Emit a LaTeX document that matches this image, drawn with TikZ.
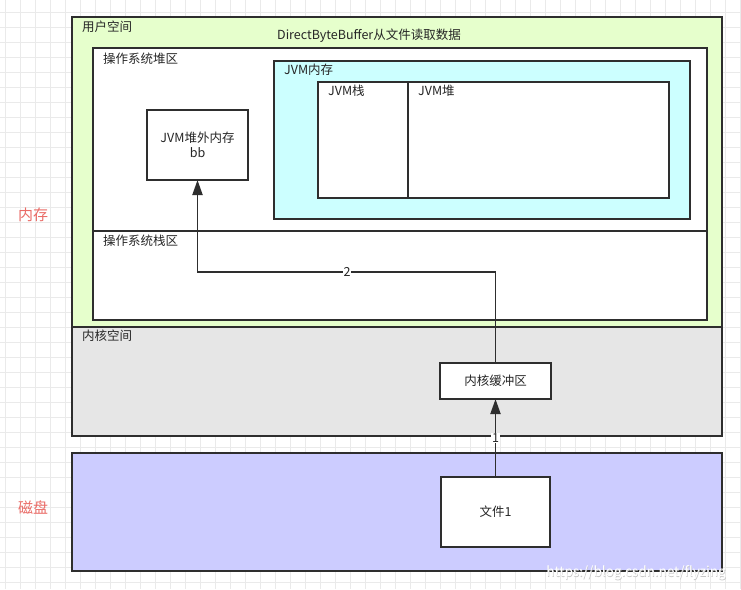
\documentclass[tikz,border=0pt]{standalone}
\usepackage{fontspec}
\setmainfont{Noto Sans CJK SC}
\usetikzlibrary{arrows.meta}
\definecolor{usergreen}{HTML}{E6FFCC}
\definecolor{kernelgray}{HTML}{E6E6E6}
\definecolor{jvmcyan}{HTML}{CCFFFF}
\definecolor{disklav}{HTML}{CCCCFF}
\definecolor{linecol}{HTML}{2E2E2E}
\definecolor{redtxt}{HTML}{EA6B66}
\definecolor{gridcol}{HTML}{EAEAEA}
\begin{document}
\begin{tikzpicture}[x=1pt,y=-1pt,
  box/.style={draw=linecol,line width=1.9pt,anchor=north west,inner sep=0pt,outer sep=0pt},
  lab/.style={anchor=north west,inner sep=0pt,font=\fontsize{12.5}{14}\selectfont,text=black!85},
  ctext/.style={font=\fontsize{12.5}{15}\selectfont,text=black!85,align=center},
  side/.style={font=\fontsize{15}{17}\selectfont,text=redtxt},
  arr/.style={draw=linecol,line width=1.9pt,-{Triangle[length=15pt,width=10pt]}},
  lbl/.style={fill=white,inner sep=1pt,font=\fontsize{12.5}{14}\selectfont,text=black!85}]
\useasboundingbox (0,0) rectangle (741,589);
\fill[white] (0,0) rectangle (741,589);
% background grid
\foreach \gx in {5.7,20.7,...,741} \draw[gridcol,line width=0.8pt] (\gx,0) -- (\gx,589);
\foreach \gy in {12.3,27.3,...,589} \draw[gridcol,line width=0.8pt] (0,\gy) -- (741,\gy);
% memory areas
\node[box,fill=usergreen,minimum width=650pt,minimum height=310pt] (user) at (72,17) {};
\node[box,fill=kernelgray,minimum width=650pt,minimum height=109pt] (kernel) at (72,327) {};
\node[lab] (userlab) at (82,21) {用户空间};
\node[lab] (kernlab) at (82,330) {内核空间};
\node[ctext] (title) at (369,36) {DirectByteBuffer从文件读取数据};
% OS heap / stack
\node[box,fill=white,minimum width=614pt,minimum height=272pt] (os) at (93,48) {};
\coordinate (divl) at (93,231);
\coordinate (divr) at (707,231);
\draw[linecol,line width=1.9pt] (divl) -- (divr);
\node[lab] (heaplab) at (103,53) {操作系统堆区};
\node[lab] (stacklab) at (103,235) {操作系统栈区};
% JVM memory
\node[box,fill=jvmcyan,minimum width=416pt,minimum height=158pt] (jvm) at (274,61) {};
\node[lab] (jvmlab) at (284,64) {JVM内存};
\node[box,fill=white,minimum width=90pt,minimum height=116pt] (jstack) at (318,82) {};
\node[box,fill=white,minimum width=261pt,minimum height=116pt] (jheap) at (408,82) {};
\node[lab] (jstacklab) at (328,85) {JVM栈};
\node[lab] (jheaplab) at (418,85) {JVM堆};
% off-heap
\node[box,fill=white,minimum width=101pt,minimum height=70pt] (offheap) at (147,110) {};
\node[ctext] (offtext) at (197.5,145) {JVM堆外内存\\bb};
% kernel buffer
\node[box,fill=white,minimum width=111pt,minimum height=36pt] (kbuf) at (440,363) {};
\node[ctext] (kbuftext) at (495.5,381) {内核缓冲区};
% disk
\node[box,fill=disklav,minimum width=650pt,minimum height=118pt] (disk) at (72,453) {};
\node[box,fill=white,minimum width=109pt,minimum height=70pt] (file) at (441,477) {};
\node[ctext] (filetext) at (495.5,512) {文件1};
% side labels
\node[side] (memlab) at (33,215) {内存};
\node[side] (disklab) at (33,508) {磁盘};
% connectors
\draw[arr] (file.north) -- (kbuf.south) node[midway,lbl] (one) {1};
\coordinate (bend) at (347,272);
\draw[arr] (kbuf.north) |- (bend) -| (offheap.south);
\node[lbl] (two) at (bend) {2};
% watermark
\node[font=\fontsize{13.5}{15}\selectfont,text=black!22] (wm) at (636.5,573.5) {https://blog.csdn.net/flyzing};
\node[font=\fontsize{13.5}{15}\selectfont,text=white] (wm2) at (636,573) {https://blog.csdn.net/flyzing};
\end{tikzpicture}
\end{document}
